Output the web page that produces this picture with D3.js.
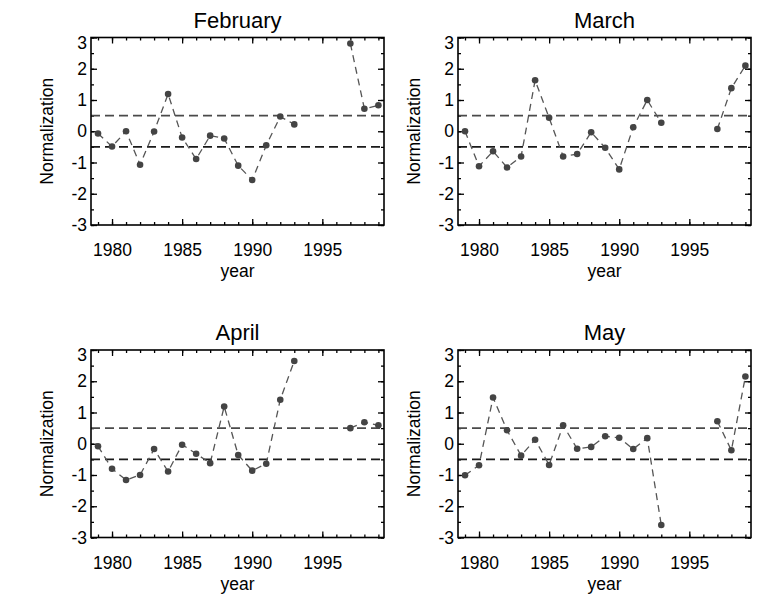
<!DOCTYPE html>
<html>
<head>
<meta charset="utf-8">
<script src="https://cdn.jsdelivr.net/npm/d3@7"></script>
<style>
  body { margin: 0; background: #fff; }
  text { font-family: "Liberation Sans", Arial, Helvetica, sans-serif; fill: #000; }
</style>
</head>
<body>
<div id="chart"></div>
<script>
const width = 778
const height = 611

// data (no data for 1994-1996)
const years = [1979,1980,1981,1982,1983,1984,1985,1986,1987,1988,1989,1990,1991,1992,1993,1994,1995,1996,1997,1998,1999]
const february = [-0.07,-0.49,0.0,-1.07,-0.01,1.19,-0.2,-0.89,-0.14,-0.23,-1.1,-1.56,-0.45,0.47,0.22,null,null,null,2.81,0.72,0.83]
const march = [0.0,-1.12,-0.64,-1.16,-0.81,1.63,0.43,-0.81,-0.73,-0.03,-0.53,-1.22,0.13,1.0,0.27,null,null,null,0.07,1.38,2.1]
const april = [-0.08,-0.8,-1.16,-1.0,-0.17,-0.89,-0.03,-0.32,-0.62,1.19,-0.36,-0.86,-0.64,1.41,2.65,null,null,null,0.5,0.69,0.59]
const may = [-1.01,-0.69,1.48,0.43,-0.38,0.13,-0.68,0.59,-0.16,-0.1,0.24,0.19,-0.17,0.18,-2.6,null,null,null,0.72,-0.21,2.15]
const titles = ["February","March","April","May"]
const xTicks = [1980,1985,1990,1995]
const yTicks = [-3,-2,-1,0,1,2,3]
const thresholds = [0.5,-0.5]

const series = [february, march, april, may]

const pw = 293, ph = 187.5
const origins = [[91,37.5],[458,37.5],[91,350],[458,350]]

const x = d3.scaleLinear().domain([1978.5,1999.4]).range([0,pw])
const y = d3.scaleLinear().domain([-3,3]).range([ph,0])

const minorX = d3.range(1979,2000)
const minorY = d3.range(-3,3.01,0.5)
const fmt = d => String(d)

const svg = d3.select("div#chart").append("svg").attr("width",width).attr("height",height)
svg.append("rect").attr("width",width).attr("height",height).attr("fill","#fff")

series.forEach((vals,i) => {
    const g = svg.append("g").attr("transform",`translate(${origins[i][0]},${origins[i][1]})`)
    const data = years.map((yr,j) => ({year:yr, value:vals[j]}))

    // minor ticks on all sides
    g.append("g").attr("transform",`translate(0,${ph})`).call(d3.axisBottom(x).tickValues(minorX).tickSize(-3).tickFormat(""))
    g.append("g").call(d3.axisTop(x).tickValues(minorX).tickSize(-3).tickFormat(""))
    g.append("g").call(d3.axisLeft(y).tickValues(minorY).tickSize(-3).tickFormat(""))
    g.append("g").attr("transform",`translate(${pw},0)`).call(d3.axisRight(y).tickValues(minorY).tickSize(-3).tickFormat(""))

    // major ticks + labels
    const xb = g.append("g").attr("transform",`translate(0,${ph})`)
        .call(d3.axisBottom(x).tickValues(xTicks).tickSize(-6).tickPadding(19).tickFormat(fmt))
    g.append("g").call(d3.axisTop(x).tickValues(xTicks).tickSize(-6).tickFormat(""))
    const yl = g.append("g").call(d3.axisLeft(y).tickValues(yTicks).tickSize(-6).tickPadding(4).tickFormat(fmt))
    g.append("g").attr("transform",`translate(${pw},0)`).call(d3.axisRight(y).tickValues(yTicks).tickSize(-6).tickFormat(""))

    g.selectAll(".domain").remove()
    g.selectAll(".tick line").attr("stroke","#000").attr("stroke-width",1.3)
    xb.selectAll("text").attr("font-size",17.5).attr("font-family","Liberation Sans, Arial, sans-serif")
    yl.selectAll("text").attr("font-size",17.5).attr("font-family","Liberation Sans, Arial, sans-serif")
    yl.selectAll(".tick").filter(d => d === 3).select("text").attr("dy","0.62em")

    // threshold lines
    g.selectAll("line.thr").data(thresholds).enter().append("line")
        .attr("class","thr")
        .attr("x1",0).attr("x2",pw)
        .attr("y1",d => y(d)).attr("y2",d => y(d))
        .attr("stroke",d => d > 0 ? "#4a4a4a" : "#1a1a1a")
        .attr("stroke-width",1.6)
        .attr("stroke-dasharray","9,5")

    // data line
    g.append("path").datum(data)
        .attr("fill","none")
        .attr("stroke","#555")
        .attr("stroke-width",1.3)
        .attr("stroke-dasharray","7,5")
        .attr("d", d3.line().defined(d => d.value !== null).x(d => x(d.year)).y(d => y(d.value)))

    g.selectAll("circle").data(data.filter(d => d.value !== null)).enter().append("circle")
        .attr("cx",d => x(d.year))
        .attr("cy",d => y(d.value))
        .attr("r",3.3)
        .attr("fill","#444")

    // frame
    g.append("rect").attr("width",pw).attr("height",ph).attr("fill","none").attr("stroke","#000").attr("stroke-width",1.6)

    // titles
    g.append("text").attr("x",pw/2).attr("y",-10).attr("text-anchor","middle").attr("font-size",22).text(titles[i])
    g.append("text").attr("x",pw/2).attr("y",ph+52).attr("text-anchor","middle").attr("font-size",17.5).text("year")
    g.append("text").attr("transform",`translate(-38,${ph/2}) rotate(-90)`).attr("text-anchor","middle").attr("font-size",17.5).text("Normalization")
})
</script>
</body>
</html>
